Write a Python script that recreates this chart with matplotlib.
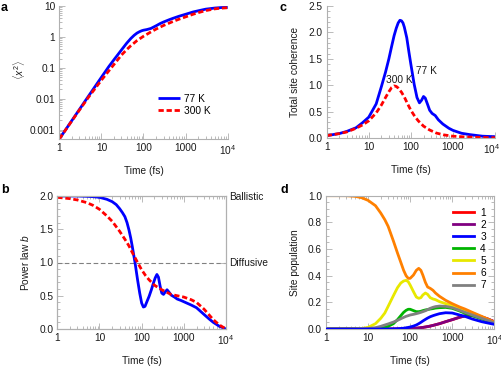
import numpy as np
import matplotlib
matplotlib.use('Agg')
import matplotlib.pyplot as plt
import matplotlib.transforms as mtransforms
from matplotlib.ticker import FixedLocator, LogLocator, NullFormatter, MultipleLocator

# ---------------- data ----------------
# Panel a: mean square displacement <x^2>
t_a77 = [1, 2, 3, 5, 7, 10, 15, 20, 30, 40, 50, 60, 70, 80, 90, 100, 120, 150, 200, 250,
         300, 400, 500, 700, 1000, 1500, 2000, 3000, 5000, 7000, 10000]
msd_77 = [5e-4, 2e-3, 4.5e-3, 0.0125, 0.0244, 0.0495, 0.11, 0.185, 0.38, 0.63, 0.89, 1.13,
          1.33, 1.47, 1.58, 1.65, 1.73, 1.88, 2.3, 2.72, 3.04, 3.56, 3.99, 4.67, 5.4, 6.4,
          7.0, 7.9, 8.6, 8.9, 9.0]
t_a300 = [1, 2, 3, 5, 7, 10, 15, 20, 30, 40, 50, 70, 100, 150, 200, 300, 500, 700, 1000,
          1500, 2000, 3000, 5000, 7000, 10000]
msd_300 = [5e-4, 1.95e-3, 4.3e-3, 0.0115, 0.021, 0.04, 0.08, 0.13, 0.26, 0.39, 0.52, 0.76,
           1.05, 1.45, 1.8, 2.35, 3.15, 3.75, 4.45, 5.4, 6.1, 7.1, 8.1, 8.5, 8.8]

# Panel b: power law exponent b
t_b77 = [1, 2, 3, 5, 7, 10, 15, 20, 25, 30, 35, 40, 45, 50, 55, 60, 65, 70, 75, 80, 90, 100,
         110, 120, 135, 150, 170, 190, 210, 230, 250, 275, 300, 330, 365, 400, 450, 500, 600,
         700, 850, 1000, 1500, 2000, 3000, 4000, 5000, 7000, 10000]
b_77 = [2.0, 2.0, 2.0, 1.995, 1.99, 1.98, 1.95, 1.915, 1.87, 1.81, 1.75, 1.69, 1.6, 1.49,
        1.37, 1.24, 1.11, 0.99, 0.86, 0.74, 0.54, 0.39, 0.33, 0.34, 0.42, 0.49, 0.59, 0.69,
        0.77, 0.82, 0.78, 0.64, 0.54, 0.52, 0.56, 0.59, 0.55, 0.51, 0.48, 0.45, 0.43, 0.41,
        0.36, 0.32, 0.22, 0.15, 0.10, 0.04, 0.0]
t_b300 = [1, 2, 3, 5, 7, 10, 15, 20, 30, 40, 50, 60, 70, 85, 100, 125, 150, 200, 250, 300,
          400, 500, 700, 1000, 1500, 2000, 3000, 4000, 5000, 7000, 10000]
b_300 = [1.98, 1.96, 1.94, 1.9, 1.86, 1.8, 1.7, 1.62, 1.47, 1.35, 1.25, 1.15, 1.07, 0.97,
         0.89, 0.8, 0.74, 0.66, 0.62, 0.59, 0.55, 0.52, 0.5, 0.48, 0.44, 0.4, 0.3, 0.21,
         0.14, 0.06, 0.0]

# Panel c: total site coherence
t_c77 = [1, 2, 3, 5, 7, 10, 15, 20, 25, 30, 35, 40, 45, 50, 55, 60, 65, 70, 80, 90, 100, 120,
         140, 160, 180, 200, 220, 250, 280, 320, 380, 450, 575, 800, 1000, 1600, 2500,
         5000, 7000, 10000]
coh_77 = [0.05, 0.09, 0.13, 0.2, 0.29, 0.4, 0.65, 0.98, 1.25, 1.5, 1.74, 1.94, 2.08, 2.18,
          2.23, 2.22, 2.18, 2.1, 1.9, 1.63, 1.4, 1.02, 0.77, 0.67, 0.72, 0.79, 0.76, 0.64,
          0.53, 0.47, 0.43, 0.35, 0.27, 0.19, 0.15, 0.095, 0.07, 0.04, 0.035, 0.03]
t_c300 = [1, 2, 3, 5, 7, 10, 15, 20, 25, 30, 35, 40, 45, 50, 60, 70, 85, 100, 125, 150, 200,
          275, 400, 600, 1000, 2000, 5000, 10000]
coh_300 = [0.05, 0.09, 0.12, 0.19, 0.25, 0.33, 0.48, 0.63, 0.77, 0.88, 0.96, 0.99, 0.98,
           0.95, 0.87, 0.78, 0.64, 0.53, 0.41, 0.33, 0.23, 0.16, 0.1, 0.065, 0.04, 0.025,
           0.015, 0.01]

# Panel d: site populations
t_d = [1, 3, 5, 7, 10, 15, 20, 25, 30, 40, 50, 60, 70, 80, 90, 100, 120, 140, 160, 180, 200,
       230, 260, 300, 350, 400, 500, 700, 1000, 1500, 2000, 3000, 5000, 7000, 10000]
pop_1 = [0, 0, 0, 0, 0, 0, 0, 0, 0, 0, 0, 0, 0, 0, 0, 0.002, 0.004, 0.006, 0.008, 0.01, 0.012,
         0.015, 0.018, 0.022, 0.027, 0.032, 0.04, 0.055, 0.07, 0.088, 0.098, 0.1, 0.09, 0.075, 0.055]
pop_2 = [0, 0, 0, 0, 0, 0, 0, 0, 0, 0, 0, 0, 0, 0, 0, 0.002, 0.004, 0.006, 0.008, 0.01, 0.012,
         0.015, 0.018, 0.022, 0.027, 0.032, 0.04, 0.055, 0.07, 0.088, 0.098, 0.1, 0.09, 0.075, 0.055]
pop_3 = [0, 0, 0, 0, 0, 0, 0, 0, 0, 0.001, 0.002, 0.004, 0.006, 0.009, 0.012, 0.015, 0.022,
         0.03, 0.04, 0.05, 0.06, 0.072, 0.082, 0.092, 0.1, 0.106, 0.115, 0.122, 0.12, 0.105,
         0.095, 0.075, 0.055, 0.045, 0.035]
pop_4 = [0, 0, 0, 0, 0, 0.002, 0.006, 0.012, 0.02, 0.04, 0.07, 0.1, 0.125, 0.14, 0.148, 0.148,
         0.138, 0.13, 0.13, 0.133, 0.138, 0.143, 0.146, 0.15, 0.153, 0.157, 0.16, 0.162, 0.155,
         0.135, 0.118, 0.1, 0.075, 0.06, 0.045]
pop_5 = [0, 0, 0.001, 0.004, 0.012, 0.04, 0.08, 0.12, 0.17, 0.25, 0.31, 0.345, 0.36, 0.365,
         0.355, 0.33, 0.28, 0.24, 0.23, 0.235, 0.255, 0.27, 0.26, 0.235, 0.225, 0.22, 0.205,
         0.19, 0.175, 0.155, 0.14, 0.12, 0.09, 0.07, 0.05]
pop_6 = [1.0, 1.0, 0.995, 0.985, 0.965, 0.925, 0.87, 0.82, 0.77, 0.66, 0.57, 0.5, 0.44, 0.4,
         0.38, 0.38, 0.405, 0.44, 0.455, 0.44, 0.405, 0.35, 0.315, 0.305, 0.29, 0.27, 0.245,
         0.215, 0.19, 0.165, 0.15, 0.125, 0.095, 0.075, 0.05]
pop_7 = [0, 0, 0, 0.001, 0.004, 0.01, 0.02, 0.03, 0.038, 0.052, 0.065, 0.077, 0.087, 0.095,
         0.1, 0.105, 0.11, 0.115, 0.12, 0.125, 0.13, 0.137, 0.145, 0.155, 0.163, 0.168, 0.172,
         0.17, 0.16, 0.14, 0.125, 0.105, 0.08, 0.065, 0.045]
site_labels = ['1', '2', '3', '4', '5', '6', '7']
site_colors = ['#ff0000', '#800080', '#0000ff', '#00b400', '#e8e800', '#ff8000', '#808080']

x_ticks = [1, 10, 100, 1000, 10000]
x_ticklabels = ['1', '10', '100', '1000', r'$\mathregular{10^4}$']
a_yticks = [0.001, 0.01, 0.1, 1, 10]
a_yticklabels = ['0.001', '0.01', '0.1', '1', '10']

# ---------------- style ----------------
FS = 7.3
plt.rcParams['font.family'] = ['Liberation Sans', 'DejaVu Sans']
plt.rcParams['mathtext.fontset'] = 'custom'
plt.rcParams['mathtext.rm'] = 'Liberation Sans'
plt.rcParams['mathtext.it'] = 'Liberation Sans:italic'
plt.rcParams['font.size'] = FS

W, H = 502, 369
fig = plt.figure(figsize=(W / 100, H / 100), dpi=100)


def add_ax(l, r, t, b):
    return fig.add_axes([l / W, 1 - b / H, (r - l) / W, (b - t) / H])


SPINE = '#b0b0b0'
TXT = '#1a1a1a'


def style(ax, frame):
    for s in ['left', 'bottom', 'top', 'right']:
        ax.spines[s].set_color(SPINE)
        ax.spines[s].set_linewidth(0.8)
    if not frame:
        ax.spines['top'].set_visible(False)
        ax.spines['right'].set_visible(False)
    ax.tick_params(which='both', direction='in', color=SPINE, labelcolor=TXT,
                   labelsize=FS, top=frame, right=frame, width=0.6)
    ax.tick_params(which='major', length=4, pad=3)
    ax.tick_params(which='minor', length=2)
    ax.set_xscale('log')
    ax.set_xlim(1, 1e4)
    ax.xaxis.set_major_locator(FixedLocator(x_ticks))
    ax.set_xticklabels(x_ticklabels)
    ax.xaxis.set_minor_locator(LogLocator(base=10, subs=np.arange(2, 10)))
    ax.xaxis.set_minor_formatter(NullFormatter())
    ax.set_xlabel('Time (fs)', fontsize=FS, color=TXT)
    ax.xaxis.set_label_coords(0.5, -0.2)


LW = 2.0
DASH = (1.9, 1.0)

ax_a = add_ax(59.3, 227.7, 6, 139)
ax_c = add_ax(326.7, 495, 6, 138.3)
ax_b = add_ax(57.3, 226, 196, 329)
ax_d = add_ax(326, 494.3, 195.7, 329)

# ---- panel a ----
style(ax_a, False)
ax_a.plot(t_a77, msd_77, color='#0000ff', lw=LW, label='77 K', solid_capstyle='butt')
ax_a.plot(t_a300, msd_300, color='#ff0000', lw=LW, dashes=DASH, label='300 K')
ax_a.set_yscale('log')
ax_a.set_ylim(5e-4, 10)
ax_a.yaxis.set_major_locator(FixedLocator(a_yticks))
ax_a.set_yticklabels(a_yticklabels)
ax_a.yaxis.set_minor_locator(LogLocator(base=10, subs=np.arange(2, 10)))
ax_a.yaxis.set_minor_formatter(NullFormatter())
ax_a.set_ylabel(r'$\langle x^2\rangle$', color=TXT)
ax_a.yaxis.set_label_coords(-0.192, 0.52)
ax_a.legend(loc='center left', bbox_to_anchor=(0.588, 0.259), frameon=False,
            borderaxespad=0, borderpad=0, handlelength=2.15, handletextpad=0.4,
            labelspacing=0.2, fontsize=FS)

# ---- panel c ----
style(ax_c, False)
ax_c.plot(t_c77, coh_77, color='#0000ff', lw=LW)
ax_c.plot(t_c300, coh_300, color='#ff0000', lw=LW, dashes=DASH)
ax_c.set_ylim(0, 2.5)
ax_c.yaxis.set_major_locator(MultipleLocator(0.5))
ax_c.yaxis.set_minor_locator(MultipleLocator(0.1))
ax_c.yaxis.set_major_formatter(matplotlib.ticker.FormatStrFormatter('%.1f'))
ax_c.set_ylabel('Total site coherence', color=TXT)
ax_c.yaxis.set_label_coords(-0.159, 0.5)
ax_c.text(53, 1.108, '300 K', ha='center', va='center', color=TXT)
ax_c.text(233, 1.278, '77 K', ha='center', va='center', color=TXT)
# keep the last tick label of panel c inside the figure
last = ax_c.get_xticklabels()[-1]
last.set_transform(last.get_transform() +
                   mtransforms.ScaledTranslation(-3 / 100, 0, fig.dpi_scale_trans))

# ---- panel b ----
style(ax_b, True)
ax_b.tick_params(which='both', right=False)
ax_b.axhline(1.0, color='#808080', lw=0.8, dashes=(4.2, 2.3))
ax_b.plot(t_b77, b_77, color='#0000ff', lw=LW)
ax_b.plot(t_b300, b_300, color='#ff0000', lw=LW, dashes=DASH)
ax_b.set_ylim(0, 2.0)
ax_b.yaxis.set_major_locator(MultipleLocator(0.5))
ax_b.yaxis.set_minor_locator(MultipleLocator(0.1))
ax_b.yaxis.set_major_formatter(matplotlib.ticker.FormatStrFormatter('%.1f'))
ax_b.set_ylabel(r'Power law $b$', color=TXT)
ax_b.yaxis.set_label_coords(-0.156, 0.5)
ax_b2 = ax_b.twinx()
ax_b2.set_ylim(0, 2.0)
ax_b2.set_yticks([1.0, 2.0])
ax_b2.set_yticklabels(['Diffusive', 'Ballistic'])
ax_b2.tick_params(direction='in', color=SPINE, labelcolor=TXT, labelsize=FS,
                  length=4, width=0.6, pad=2)
for s in ax_b2.spines.values():
    s.set_color(SPINE)
    s.set_linewidth(0.8)

# ---- panel d ----
style(ax_d, True)
pops = [pop_1, pop_2, pop_3, pop_4, pop_5, pop_6, pop_7]
zord = [2, 2.1, 2.9, 2.2, 2.3, 2.4, 2.5]
for p, c, lab, z in zip(pops, site_colors, site_labels, zord):
    ax_d.plot(t_d, p, color=c, lw=LW, label=lab, zorder=z)
ax_d.set_ylim(0, 1.0)
ax_d.yaxis.set_major_locator(MultipleLocator(0.2))
ax_d.yaxis.set_minor_locator(MultipleLocator(0.05))
ax_d.yaxis.set_major_formatter(matplotlib.ticker.FormatStrFormatter('%.1f'))
ax_d.set_ylabel('Site population', color=TXT)
ax_d.yaxis.set_label_coords(-0.154, 0.5)
ax_d.legend(loc='center left', bbox_to_anchor=(0.753, 0.60), frameon=False,
            borderaxespad=0, borderpad=0, handlelength=2.1, handletextpad=0.6,
            labelspacing=0.2, fontsize=FS)

# panel letters
for lab, x, y in [('a', 1, 11), ('b', 1, 193), ('c', 280, 11), ('d', 280.7, 193.3)]:
    fig.text(x / W, 1 - y / H, lab, fontsize=9, fontweight='bold', ha='left',
             va='baseline', color='black')

fig.savefig('out.png', dpi=100)
